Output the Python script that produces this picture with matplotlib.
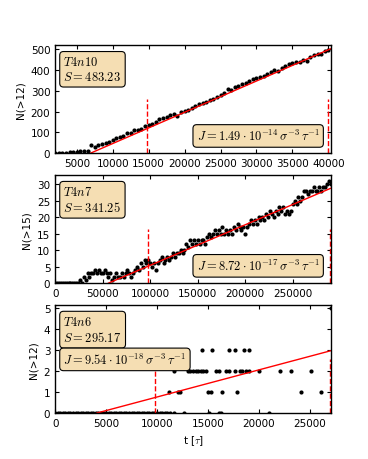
"""
Cluster count N(>n) over time for three runs, with linear nucleation fits.
"""

import numpy as np
import matplotlib
matplotlib.use("Agg")
import matplotlib.pyplot as plt

plt.rcParams['mathtext.fontset'] = 'cm'
plt.rcParams['font.size'] = 7.5
plt.rcParams['axes.linewidth'] = 1.0

# --- run T4n10 ---
t_n10 = np.arange(2000, 40001, 500)
n_n10 = [0, 0, 2, 3, 4, 5, 8, 12, 12, 10,
         38, 28, 38, 45, 48, 55, 62, 72, 78, 82,
         97, 97, 112, 113, 118, 130, 135, 140, 152, 165,
         170, 176, 182, 188, 180, 200, 205, 210, 218, 228,
         235, 240, 248, 255, 262, 270, 282, 290, 308, 305,
         318, 325, 335, 338, 345, 355, 362, 365, 372, 380,
         388, 400, 395, 410, 420, 430, 435, 438, 440, 448,
         445, 460, 470, 478, 475, 492, 495]
fit_n10 = (6900, 40400, 503)     # t0, t_end, N at t_end
win_n10 = [14800, 39900]

# --- run T4n7 ---
t_n7 = np.arange(0, 290001, 2000)
n_n7 = [0, 0, 0, 0, 0, 0, 0, 0, 0, 0,
        0, 0, 0, 1, 0, 2, 1, 3, 2, 3,
        3, 4, 3, 4, 3, 3, 4, 3, 2, 3,
        1, 2, 3, 2, 2, 3, 2, 3, 4, 3,
        2, 3, 4, 5, 4, 6, 5, 7, 6, 7,
        6, 5, 6, 4, 6, 7, 8, 6, 7, 8,
        7, 8, 9, 8, 9, 9, 10, 9, 10, 12,
        11, 13, 12, 13, 12, 13, 12, 13, 13, 12,
        14, 15, 14, 15, 16, 15, 16, 15, 17, 15,
        16, 15, 16, 15, 17, 16, 18, 17, 16, 17,
        15, 17, 18, 19, 18, 19, 18, 20, 19, 20,
        19, 21, 20, 22, 21, 20, 22, 21, 23, 22,
        23, 21, 22, 21, 22, 24, 25, 24, 26, 25,
        26, 28, 28, 27, 28, 28, 29, 28, 28, 29,
        28, 29, 29, 30, 31, 30]
fit_n7 = (56100, 290500, 28.8)
win_n7 = [98000, 289500]

# --- run T4n6 ---
t_n6_zero = np.arange(0, 11001, 250)
t_n6_extra = [11300, 11700, 12600, 15100, 16100, 16300, 21000,
              11200, 12070, 12300, 15020, 15250, 16400, 17880, 24110, 26080,
              11640, 13050, 13280, 13500, 13780, 14000, 14270, 14500, 14760,
              15740, 16070, 16730, 17060, 17700, 18140, 18370, 18700, 19020,
              20000, 22040, 23120, 25090,
              12400, 14430, 15400, 17060, 17700, 18530, 19020,
              27060]
n_n6_extra = [0, 0, 0, 0, 0, 0, 0,
              1, 1, 1, 1, 1, 1, 1, 1, 1,
              2, 2, 2, 2, 2, 2, 2, 2, 2,
              2, 2, 2, 2, 2, 2, 2, 2, 2,
              2, 2, 2, 2,
              3, 3, 3, 3, 3, 3, 3,
              5]
fit_n6 = (4100, 27100, 2.98)
win_n6 = [9800, 27000]

box = dict(boxstyle='round', facecolor='wheat', edgecolor='k', linewidth=0.8)


def plot_panel(ax, t, n, fit, win, ylabel, name, entropy, rate, j_pos):
    ax.plot(t, n, 'o', color='k', markersize=3, markeredgewidth=0)
    t0, t1, n1 = fit
    ax.plot([t0, t1], [0, n1], '-', color='r', linewidth=1)
    for w in win:
        ax.axvline(w, ymax=0.5, color='r', linestyle='--', linewidth=1)
    ax.set_ylabel(ylabel)
    ax.tick_params(direction='in', top=True, right=True, length=3)
    ax.text(0.03, 0.905, name + '\n' + entropy, transform=ax.transAxes,
            ha='left', va='top', fontsize=9, bbox=box)
    x, y, ha, va = j_pos
    ax.text(x, y, rate, transform=ax.transAxes, ha=ha, va=va,
            fontsize=9, bbox=box)


fig, axes = plt.subplots(3, 1, figsize=(3.68, 4.6), dpi=100)
fig.subplots_adjust(left=0.15, right=0.9, top=0.9, bottom=0.1, hspace=0.2)

plot_panel(axes[0], t_n10, n_n10, fit_n10, win_n10, 'N(>12)',
           r'$T4n10$', r'$S=483.23$',
           r'$J=1.49\cdot10^{-14}\,\sigma^{-3}\,\tau^{-1}$',
           (0.958, 0.09, 'right', 'bottom'))
axes[0].set_xlim(2000, 40400)
axes[0].set_ylim(0, 520)
axes[0].set_xticks(np.arange(5000, 40001, 5000))
axes[0].set_yticks(np.arange(0, 501, 100))

plot_panel(axes[1], t_n7, n_n7, fit_n7, win_n7, 'N(>15)',
           r'$T4n7$', r'$S=341.25$',
           r'$J=8.72\cdot10^{-17}\,\sigma^{-3}\,\tau^{-1}$',
           (0.958, 0.09, 'right', 'bottom'))
axes[1].set_xlim(0, 290500)
axes[1].set_ylim(0, 32.8)
axes[1].set_xticks(np.arange(0, 250001, 50000))
axes[1].set_yticks(np.arange(0, 31, 5))

t_n6 = np.concatenate([t_n6_zero, t_n6_extra])
n_n6 = np.concatenate([np.zeros(len(t_n6_zero)), n_n6_extra])
plot_panel(axes[2], t_n6, n_n6, fit_n6, win_n6, 'N(>12)',
           r'$T4n6$', r'$S=295.17$',
           r'$J=9.54\cdot10^{-18}\,\sigma^{-3}\,\tau^{-1}$',
           (0.03, 0.565, 'left', 'top'))
axes[2].set_xlim(0, 27100)
axes[2].set_ylim(0, 5.17)
axes[2].set_xticks(np.arange(0, 25001, 5000))
axes[2].set_yticks(np.arange(0, 6, 1))
axes[2].set_xlabel(r't [$\tau$]')

fig.savefig('out.png', dpi=100)
